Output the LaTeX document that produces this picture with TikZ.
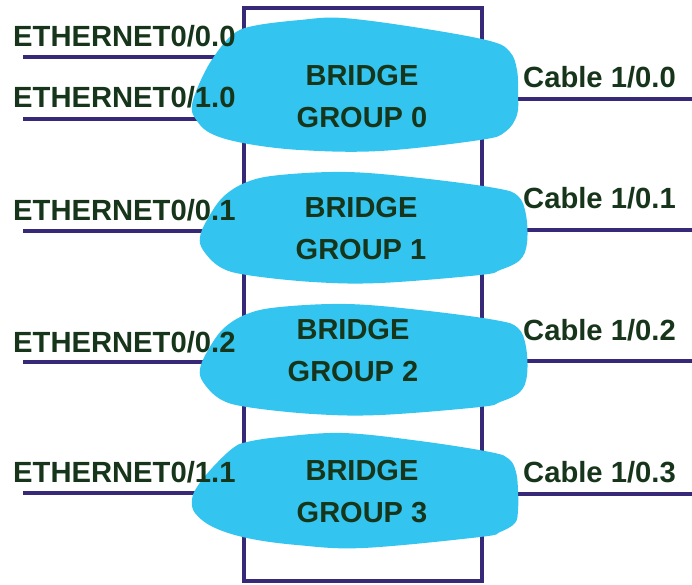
\documentclass[tikz,border=0pt]{standalone}
\usepackage{fontspec}
\setmainfont{Liberation Sans}
\definecolor{wire}{RGB}{55,40,120}
\definecolor{blobc}{RGB}{51,196,240}
\definecolor{txt}{RGB}{22,53,26}
\begin{document}
\begin{tikzpicture}[x=1pt,y=-1pt,
  wirestyle/.style={draw=wire,line width=4.5pt},
  blob/.style={fill=blobc,draw=none},
  portlabel/.style={inner sep=0pt,anchor=base west,text=txt,font=\fontsize{29.2}{34}\selectfont\bfseries},
  grouplabel/.style={inner sep=0pt,anchor=center,align=center,text=txt,font=\fontsize{29}{42}\selectfont\bfseries}]
\useasboundingbox (0,0) rectangle (692,584);
% chassis
\draw[wirestyle] (244,8) rectangle (482,581);
% wire end coordinates
\coordinate (e00) at (23,57);   \coordinate (g0a) at (260,57);
\coordinate (e10) at (23,119);  \coordinate (g0b) at (260,119);
\coordinate (c00) at (692,99);  \coordinate (g0c) at (470,99);
\coordinate (e01) at (23,231);  \coordinate (g1a) at (260,231);
\coordinate (c01) at (692,230); \coordinate (g1c) at (470,230);
\coordinate (e02) at (23,362);  \coordinate (g2a) at (260,362);
\coordinate (c02) at (692,361); \coordinate (g2c) at (470,361);
\coordinate (e11) at (23,493);  \coordinate (g3a) at (260,493);
\coordinate (c03) at (692,494); \coordinate (g3c) at (470,494);
\draw[wirestyle] (e00) -- (g0a);
\draw[wirestyle] (e10) -- (g0b);
\draw[wirestyle] (g0c) -- (c00);
\draw[wirestyle] (e01) -- (g1a);
\draw[wirestyle] (g1c) -- (c01);
\draw[wirestyle] (e02) -- (g2a);
\draw[wirestyle] (g2c) -- (c02);
\draw[wirestyle] (e11) -- (g3a);
\draw[wirestyle] (g3c) -- (c03);
% blobs
\fill[blob] plot[smooth cycle,tension=0.6] coordinates {(253,26) (300,20) (343,18) (420,28) (490,41) (510,52) (517,70) (518,93) (517,115) (505,132) (480,140) (380,151) (300,150) (243,143) (210,133) (195,118) (192,105) (200,82) (213,58) (232,35)};
\fill[blob] plot[smooth cycle,tension=0.6] coordinates {(247,182) (280,175) (347,172) (420,178) (495,188) (518,196) (526,215) (527,243) (520,260) (500,270) (480,275) (380,283) (313,282) (247,275) (220,267) (203,250) (200,237) (207,220) (223,197)};
\begin{scope}[yshift=-132pt]
\fill[blob] plot[smooth cycle,tension=0.6] coordinates {(247,182) (280,175) (347,172) (420,178) (495,188) (518,196) (526,215) (527,243) (520,260) (500,270) (480,275) (380,283) (313,282) (247,275) (220,267) (203,250) (200,237) (207,220) (223,197)};
\end{scope}
\fill[blob] plot[smooth cycle,tension=0.6] coordinates {(247,442) (280,437) (343,433) (420,441) (490,452) (509,459) (516,472) (518,490) (518,510) (515,523) (500,532) (480,537) (363,548) (297,545) (247,538) (213,527) (195,513) (192,500) (197,487) (213,467) (233,448)};
% labels
\node[portlabel] (l00) at (13,46) {ETHERNET0/0.0};
\node[portlabel] (l10) at (13,107) {ETHERNET0/1.0};
\node[portlabel] (l01) at (13,220) {ETHERNET0/0.1};
\node[portlabel] (l02) at (13,352) {ETHERNET0/0.2};
\node[portlabel] (l11) at (13,482) {ETHERNET0/1.1};
\node[portlabel] (k00) at (523,87) {Cable 1/0.0};
\node[portlabel] (k01) at (523,208) {Cable 1/0.1};
\node[portlabel] (k02) at (523,340) {Cable 1/0.2};
\node[portlabel] (k03) at (523,482) {Cable 1/0.3};
\node[grouplabel] (bg0) at (362,97) {BRIDGE\\GROUP 0};
\node[grouplabel] (bg1) at (361,229) {BRIDGE\\GROUP 1};
\node[grouplabel] (bg2) at (353,351) {BRIDGE\\GROUP 2};
\node[grouplabel] (bg3) at (362,492) {BRIDGE\\GROUP 3};
\end{tikzpicture}
\end{document}
